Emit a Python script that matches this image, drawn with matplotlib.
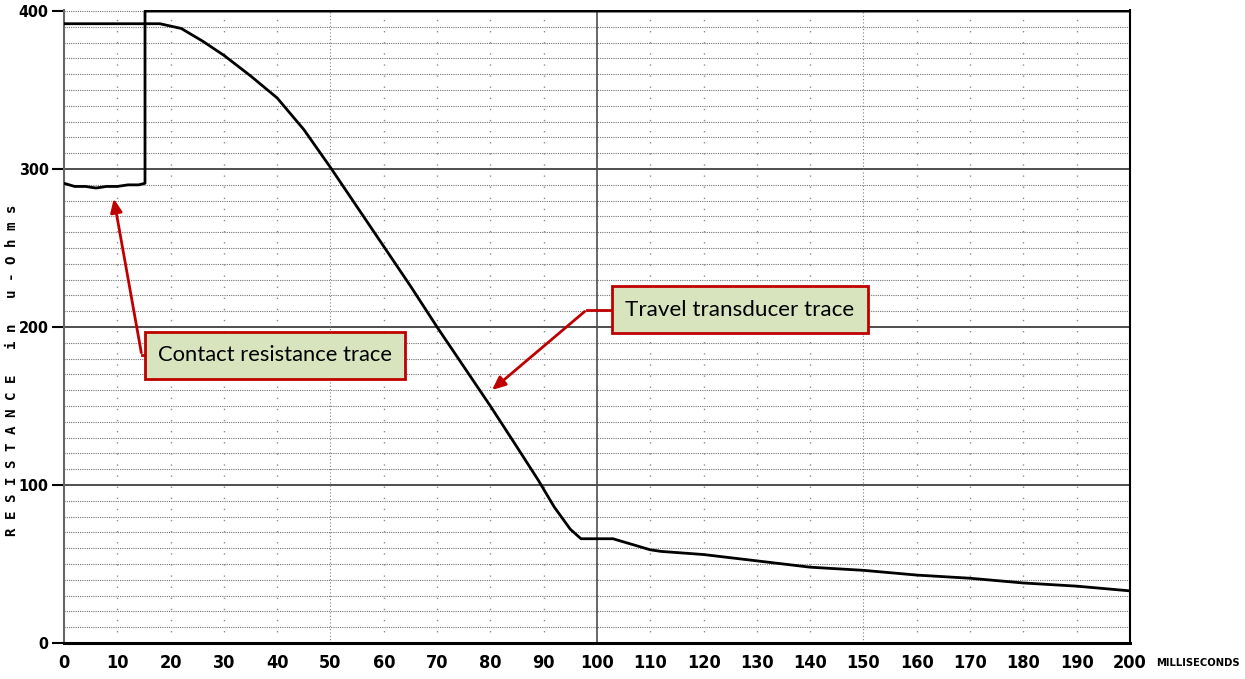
import matplotlib.pyplot as plt

# travel transducer trace
travel_ms = [0, 18, 22, 26, 30, 35, 40, 45, 50, 55, 60, 65, 70, 75, 80, 85, 89, 92, 95, 97,
             103, 105, 110, 112, 120, 130, 140, 150, 160, 170, 180, 190, 200]
travel_val = [392, 392, 389, 381, 372, 359, 345, 325, 301, 276, 251, 226, 200, 175, 150, 124,
              103, 86, 72, 66, 66, 64, 59, 58, 56, 52, 48, 46, 43, 41, 38, 36, 33]

# contact resistance trace (goes off scale once the contacts part)
contact_ms = [0, 2, 4, 6, 8, 10, 12, 14, 15.2, 15.2, 200]
contact_val = [291, 289, 289, 288, 289, 289, 290, 290, 291, 400, 400]

x_ticks = list(range(0, 201, 10))
y_ticks = [0, 100, 200, 300, 400]
y_minor = [v for v in range(10, 401, 10) if v not in y_ticks]

plt.rcParams['font.family'] = ['DejaVu Sans']
plt.rcParams['font.stretch'] = 'condensed'

fig = plt.figure(figsize=(12.45, 6.79), dpi=100)
ax = fig.add_axes([0.0514, 0.053, 0.8562, 0.933])

# paper grid
for v in y_minor:
    ax.axhline(v, color='0.45', lw=0.8, ls=(0, (1, 1)), zorder=1)
ax.axhline(400, color='0.45', lw=0.8, ls=(0, (1, 1)), zorder=1)
for v in [100, 200, 300]:
    ax.axhline(v, color='0.25', lw=1.3, zorder=1)
for v in x_ticks[1:-1]:
    if v == 100:
        ax.axvline(v, color='0.3', lw=1.2, zorder=1)
    elif v in (50, 150):
        ax.axvline(v, color='0.5', lw=0.8, ls=(0, (1, 2)), zorder=1)
    else:
        ax.axvline(v, color='0.55', lw=1.0, ls=(0, (1, 7)), zorder=1)

ax.plot(travel_ms, travel_val, color='black', lw=2, zorder=3)
ax.plot(contact_ms, contact_val, color='black', lw=2, zorder=3)

ax.set_xlim(0, 200)
ax.set_ylim(0, 401)
ax.set_xticks(x_ticks)
ax.set_yticks(y_ticks)
ax.tick_params(axis='x', length=0, pad=8, labelsize=13)
ax.tick_params(axis='y', length=9, width=1.5, pad=2, labelsize=11.5)
for lab in ax.get_xticklabels() + ax.get_yticklabels():
    lab.set_fontweight('bold')

ax.spines['top'].set_visible(False)
ax.spines['left'].set_color('0.4')
ax.spines['left'].set_linewidth(1.5)
ax.spines['bottom'].set_linewidth(2.2)
ax.spines['right'].set_linewidth(1.5)

fig.text(0.929, 0.023, 'MILLISECONDS', fontsize=8, fontweight='bold', ha='left', va='center')
fig.text(0.010, 0.455, 'R E S I S T A N C E   i n   u - O h m s', rotation=90,
         fontsize=10.2, fontweight='bold', family='DejaVu Sans Mono', ha='center', va='center')

# callouts
red = '#c00000'
box = dict(boxstyle='square,pad=0.6', facecolor='#d7e4bd', edgecolor=red, linewidth=2)

ax.text(17.7, 182, 'Contact resistance trace', family='Lato', fontsize=15.8,
        va='center', ha='left', bbox=box, zorder=5)
ax.plot([15.3, 14.6], [182, 182], color=red, lw=2, zorder=4)
ax.annotate('', xy=(9.25, 283), xytext=(14.6, 182),
            arrowprops=dict(arrowstyle='-|>,head_length=0.8,head_width=0.35', color=red, lw=2),
            zorder=4)

ax.text(105.3, 211, 'Travel transducer trace', family='Lato', fontsize=16.2,
        va='center', ha='left', bbox=box, zorder=5)
ax.plot([103.5, 98.1], [211, 211], color=red, lw=2, zorder=4)
ax.annotate('', xy=(79.9, 159), xytext=(98.1, 211),
            arrowprops=dict(arrowstyle='-|>,head_length=0.8,head_width=0.35', color=red, lw=2),
            zorder=4)

fig.savefig('out.png', dpi=100)
